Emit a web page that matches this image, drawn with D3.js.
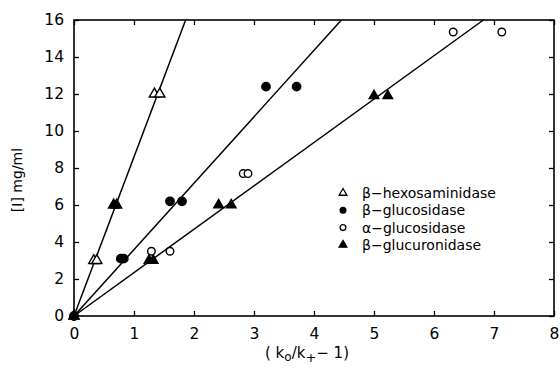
<!DOCTYPE html>
<html><head><meta charset="utf-8">
<script src="https://cdn.jsdelivr.net/npm/d3@7"></script>
<style>body{margin:0;background:#fff;} svg{display:block;font-family:"DejaVu Sans",sans-serif;}</style>
</head><body>
<svg id="c" width="560" height="370"></svg>
<script>
const seriesNames = ["β−hexosaminidase","β−glucosidase","α−glucosidase","β−glucuronidase"];
const hexX = [0, 0.33, 0.38, 0.66, 0.71, 1.34, 1.43];
const hexY = [0, 3, 3, 6, 6, 12, 12];
const hexFilled = [true, false, false, true, true, false, false];
const glcX = [0, 0.78, 0.83, 1.6, 1.8, 3.2, 3.71];
const glcY = [0, 3.1, 3.1, 6.2, 6.2, 12.4, 12.4];
const aglcX = [0, 1.29, 1.6, 2.82, 2.9, 6.32, 7.13];
const aglcY = [0, 3.5, 3.5, 7.7, 7.7, 15.35, 15.35];
const glurX = [0, 1.25, 1.32, 2.41, 2.62, 5.0, 5.23];
const glurY = [0, 3, 3, 6, 6, 11.9, 11.9];
const fitSlopes = [8.6, 3.59, 2.345];
const xTicks = [0,1,2,3,4,5,6,7,8];
const yTicks = [0,2,4,6,8,10,12,14,16];

const svg = d3.select("#c");
const x = d3.scaleLinear().domain([0,8]).range([74,554]);
const y = d3.scaleLinear().domain([0,16]).range([316,20]);

svg.append("rect").attr("x",74).attr("y",20).attr("width",480).attr("height",296)
  .attr("fill","none").attr("stroke","#000").attr("stroke-width",1.6);

const axB = d3.axisBottom(x).tickValues(xTicks).tickSizeInner(-5).tickSizeOuter(0).tickPadding(12);
const axL = d3.axisLeft(y).tickValues(yTicks).tickSizeInner(-5).tickSizeOuter(0).tickPadding(10);
const axT = d3.axisTop(x).tickValues(xTicks).tickSizeInner(-5).tickSizeOuter(0).tickFormat("");
const axR = d3.axisRight(y).tickValues(yTicks).tickSizeInner(-5).tickSizeOuter(0).tickFormat("");
function style(g){ g.select(".domain").remove(); g.selectAll("line").attr("stroke","#000").attr("stroke-width",1.3);
  g.selectAll("text").attr("font-size",15.5).attr("fill","#000").attr("font-family","'DejaVu Sans',sans-serif"); }
svg.append("g").attr("transform","translate(0,316)").call(axB).call(style);
svg.append("g").attr("transform","translate(74,0)").call(axL).call(style);
svg.append("g").attr("transform","translate(0,20)").call(axT).call(style);
svg.append("g").attr("transform","translate(554,0)").call(axR).call(style);

fitSlopes.forEach(s=>{
  const xe = Math.min(8, 16/s);
  svg.append("line").attr("x1",x(0)).attr("y1",y(0)).attr("x2",x(xe)).attr("y2",y(s*xe))
    .attr("stroke","#000").attr("stroke-width",1.5);
});

const tri = d3.symbol().type(d3.symbolTriangle);
const circ = d3.symbol().type(d3.symbolCircle);
function plot(xs, ys, sym, size, fills){
  svg.append("g").selectAll("path").data(xs.map((v,i)=>[v,ys[i],fills[i]])).join("path")
    .attr("d", sym.size(size)())
    .attr("transform", d=>`translate(${x(d[0])},${y(d[1])})`)
    .attr("fill", d=>d[2] ? "#000" : "#fff").attr("stroke","#000").attr("stroke-width",1.4);
}
plot(hexX, hexY, tri, 45, hexFilled);
plot(glcX, glcY, circ, 55, glcX.map(()=>true));
plot(aglcX, aglcY, circ, 45, aglcX.map((v,i)=>i===0));
plot(glurX, glurY, tri, 40, glurX.map(()=>true));

const legSyms = [[tri,false],[circ,true],[circ,false],[tri,true]];
seriesNames.forEach((n,i)=>{
  const yy = 193 + i*17.3;
  svg.append("path").attr("d", legSyms[i][0].size(26)()).attr("transform",`translate(343,${yy})`)
    .attr("fill", legSyms[i][1] ? "#000":"#fff").attr("stroke","#000").attr("stroke-width",1.3);
  svg.append("text").attr("x",362).attr("y",yy+5).attr("font-size",14).text(n);
});

svg.append("text").attr("transform","translate(22,180) rotate(-90)").attr("text-anchor","middle")
  .attr("font-size",14).text("[I] mg/ml");
const xt = svg.append("text").attr("x",307).attr("y",358).attr("text-anchor","middle").attr("font-size",15);
xt.append("tspan").text("( k");
xt.append("tspan").attr("dy",3).attr("font-size",12).text("o");
xt.append("tspan").attr("dy",-3).text("/k");
xt.append("tspan").attr("dy",4).attr("font-size",13).text("+");
xt.append("tspan").attr("dy",-4).text("− 1)");
</script>
</body></html>
